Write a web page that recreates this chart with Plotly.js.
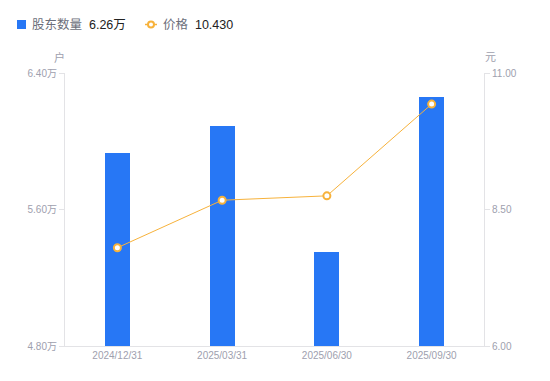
<!DOCTYPE html>
<html><head><meta charset="utf-8">
<script src="https://cdn.plot.ly/plotly-3.0.1.min.js"></script>
<style>html,body{margin:0;padding:0;background:#fff}#c{width:550px;height:381px}</style>
</head><body><div id="c"></div>
<script>
const categories = ["2024/12/31","2025/03/31","2025/06/30","2025/09/30"];
const holders = [5.93, 6.09, 5.35, 6.26];   // 万户
const prices = [7.80, 8.67, 8.75, 10.43];    // 元
const leftTicks = [4.8, 5.6, 6.4];
const leftTickText = ["4.80万","5.60万","6.40万"];
const rightTicks = [6, 8.5, 11];
const rightTickText = ["6.00","8.50","11.00"];
const seriesNames = ["股东数量","价格"];
const latestText = ["6.26万","10.430"];

const FONT = "Liberation Sans, Arial, Noto Sans CJK SC, sans-serif";
const tickFont = {family:FONT, size:10, color:"#9ea0ae"};
const BLUE = "#2777f5", ORANGE = "#f7b23b";

// pixel -> paper helpers (plot area: x 65..484, y 73..346)
const L=65, R=484, T=73, B=346;
const px = v => (v-L)/(R-L);
const py = v => (B-v)/(B-T);

const traces = [
  {type:"bar", x:categories, y:holders, width:0.24, name:seriesNames[0],
   marker:{color:BLUE}, hoverinfo:"none", showlegend:false},
  {type:"scatter", mode:"lines+markers", x:categories, y:prices, yaxis:"y2", name:seriesNames[1],
   line:{color:ORANGE, width:1},
   marker:{symbol:"circle", size:7, color:"#ffffff", line:{color:ORANGE, width:2}}, hoverinfo:"none", showlegend:false}
];
const layout = {
  width:550, height:381,
  margin:{l:L, r:550-R, t:T, b:381-B, autoexpand:false},
  paper_bgcolor:"#fff", plot_bgcolor:"#fff",
  font:{family:FONT, size:12},
  showlegend:false,
  bargap:0,
  xaxis:{type:"category", showgrid:false, showline:true, linecolor:"#e3e3e6", linewidth:1,
         ticks:"", tickfont:tickFont, zeroline:false, fixedrange:true},
  yaxis:{range:[4.8,6.4], tickvals:leftTicks, ticktext:leftTickText, showgrid:false,
         showline:true, linecolor:"#e3e3e6", ticks:"outside", ticklen:5, tickcolor:"#e3e3e6",
         tickfont:tickFont, zeroline:false, fixedrange:true},
  yaxis2:{range:[6,11], tickvals:rightTicks, ticktext:rightTickText, overlaying:"y", side:"right",
          showgrid:false, showline:true, linecolor:"#e3e3e6", ticks:"outside", ticklen:5, tickcolor:"#e3e3e6",
          tickfont:tickFont, zeroline:false, fixedrange:true},
  shapes:[
    {type:"rect", xref:"paper", yref:"paper", x0:px(17), x1:px(26), y0:py(29), y1:py(20),
     fillcolor:BLUE, line:{width:0}},
    {type:"line", xref:"paper", yref:"paper", x0:px(145), x1:px(157), y0:py(24.5), y1:py(24.5),
     line:{color:ORANGE, width:1.5}},
    {type:"circle", xref:"paper", yref:"paper", x0:px(148), x1:px(154), y0:py(27.5), y1:py(21.5),
     fillcolor:"#fff", line:{color:ORANGE, width:2}}
  ],
  annotations:[
    {text:'<span style="color:#6b6e7a">'+seriesNames[0]+'</span>  <span style="color:#222">'+latestText[0]+'</span>',
     xref:"paper", yref:"paper", x:px(30), y:py(24.5), showarrow:false, xanchor:"left", yanchor:"middle",
     font:{family:FONT, size:12.5}},
    {text:'<span style="color:#6b6e7a">'+seriesNames[1]+'</span>  <span style="color:#222">'+latestText[1]+'</span>',
     xref:"paper", yref:"paper", x:px(161), y:py(24.5), showarrow:false, xanchor:"left", yanchor:"middle",
     font:{family:FONT, size:12.5}},
    {text:"户", xref:"paper", yref:"paper", x:px(59), y:py(57), showarrow:false, xanchor:"center", yanchor:"middle",
     font:{family:FONT, size:11, color:"#9ea0ae"}},
    {text:"元", xref:"paper", yref:"paper", x:px(490), y:py(57), showarrow:false, xanchor:"center", yanchor:"middle",
     font:{family:FONT, size:11, color:"#9ea0ae"}}
  ]
};
Plotly.newPlot("c", traces, layout, {displayModeBar:false, staticPlot:true});
</script></body></html>
